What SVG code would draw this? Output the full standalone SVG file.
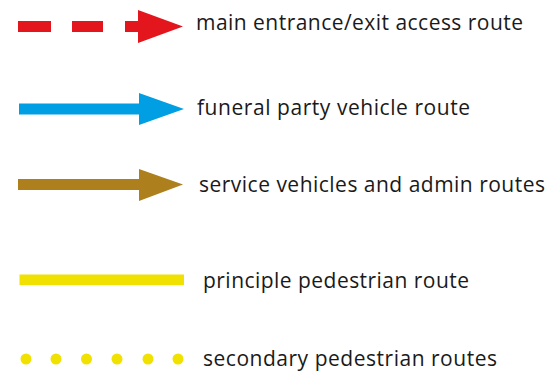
<svg xmlns="http://www.w3.org/2000/svg" width="551" height="371" viewBox="0 0 551 371">
<style>
.lbl{font-family:"Open Sans","Noto Sans",sans-serif;font-size:21px;fill:#1a1a1a}
</style>
<rect width="551" height="371" fill="#ffffff"/>
<g id="connectors">
<g id="red-route" fill="#e3151d">
<rect x="18" y="21" width="33" height="11"/>
<rect x="72" y="21" width="31" height="11"/>
<rect x="125" y="21" width="15" height="11"/>
<polygon points="138,10 183,26.5 138,43"/>
</g>
<g id="blue-route" fill="#009fe3">
<rect x="19" y="103.5" width="121" height="11"/>
<polygon points="139,93 184,109 139,125"/>
</g>
<g id="brown-route" fill="#ad7f1d">
<rect x="18" y="179" width="122" height="11"/>
<polygon points="139,169 183,184.5 139,201"/>
</g>
<g id="yellow-route" fill="#f0e100">
<rect x="19.5" y="274.5" width="164.5" height="10.5"/>
</g>
<g id="yellow-dots" fill="#f0e100">
<circle cx="26" cy="359" r="5.5"/>
<circle cx="56" cy="359" r="5.5"/>
<circle cx="86.5" cy="359" r="5.5"/>
<circle cx="117" cy="359" r="5.5"/>
<circle cx="148" cy="359" r="5.5"/>
<circle cx="178" cy="359" r="5.5"/>
</g>
</g>
<g id="labels">
<text class="lbl" x="196" y="30" textLength="327" lengthAdjust="spacing">main entrance/exit access route</text>
<text class="lbl" x="197" y="115" textLength="273" lengthAdjust="spacing">funeral party vehicle route</text>
<text class="lbl" x="199" y="192" textLength="346" lengthAdjust="spacing">service vehicles and admin routes</text>
<text class="lbl" x="203" y="288" textLength="266" lengthAdjust="spacing">principle pedestrian route</text>
<text class="lbl" x="203" y="366" textLength="294" lengthAdjust="spacing">secondary pedestrian routes</text>
</g>
</svg>
